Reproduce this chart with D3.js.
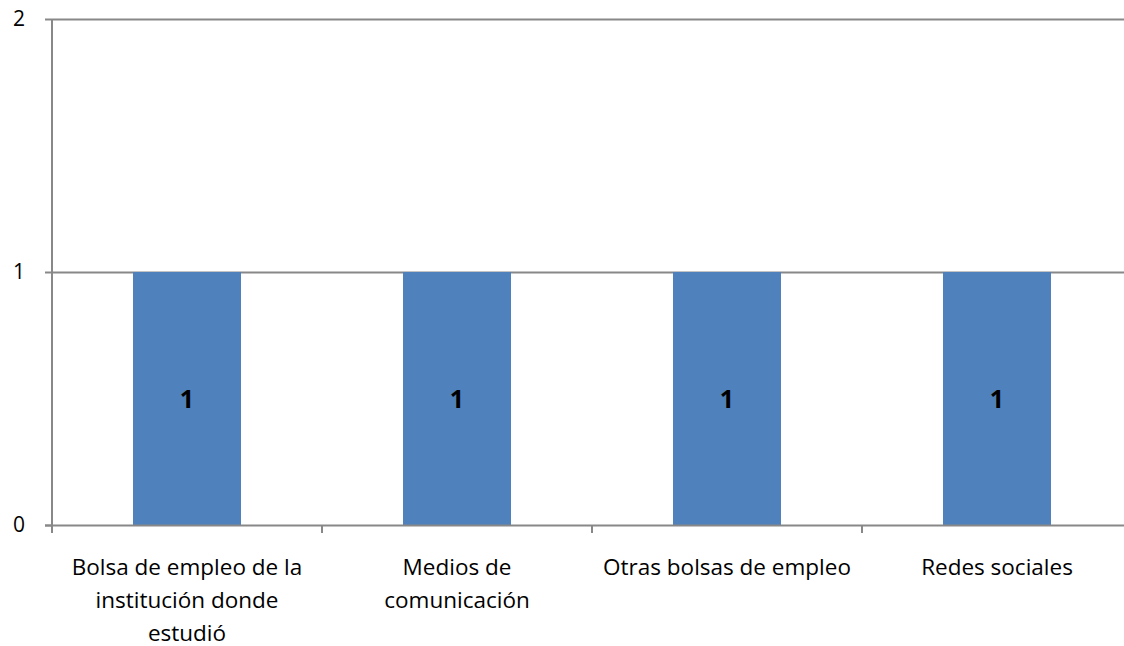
<!DOCTYPE html>
<html><head><meta charset="utf-8">
<script src="https://cdn.jsdelivr.net/npm/d3@7"></script>
<style>body{margin:0;background:#fff}svg{display:block}</style>
</head><body>
<script>
const categories = ["Bolsa de empleo de la institución donde estudió","Medios de comunicación","Otras bolsas de empleo","Redes sociales"];
const labelLines = [["Bolsa de empleo de la","institución donde","estudió"],["Medios de","comunicación"],["Otras bolsas de empleo"],["Redes sociales"]];
const values = [1,1,1,1];
const yTicks = [0,1,2];

const W=1124,H=646;
const svg=d3.select("body").append("svg").attr("width",W).attr("height",H);
const font="'Open Sans', sans-serif";
const x=d3.scaleBand().domain(categories).range([52,1132]).padding(0);
const y=d3.scaleLinear().domain([0,2]).range([525,19]);

// gridlines
svg.append("g").selectAll("line").data(yTicks.filter(d=>d>0)).join("line")
 .attr("x1",52).attr("x2",W).attr("y1",d=>y(d)+0.5).attr("y2",d=>y(d)+0.5)
 .attr("stroke","#888").attr("stroke-width",2);

// bars
const bw=x.bandwidth()*0.4;
svg.append("g").selectAll("rect").data(values).join("rect")
 .attr("x",(d,i)=>x(categories[i])+x.bandwidth()/2-bw/2)
 .attr("width",bw)
 .attr("y",d=>y(d)).attr("height",d=>y(0)-y(d))
 .attr("fill","#4f81bd");

// y axis
const yAxis=d3.axisLeft(y).tickValues(yTicks).tickSize(7).tickPadding(20).tickFormat(d3.format("d"));
const gy=svg.append("g").attr("transform","translate(52,0)").call(yAxis);
gy.select(".domain").attr("stroke","#888").attr("stroke-width",2).attr("d","M0,"+y(2)+"V"+y(0));
gy.selectAll(".tick line").attr("stroke","#888").attr("stroke-width",2);
gy.selectAll(".tick text").attr("font-family",font).attr("font-size",21).attr("fill","#000");

// x axis
const xAxis=d3.axisBottom(x).tickSize(0).tickFormat("");
const gx=svg.append("g").attr("transform","translate(0,525)").call(xAxis);
gx.select(".domain").remove();
svg.append("line").attr("x1",45).attr("x2",W).attr("y1",525.5).attr("y2",525.5).attr("stroke","#888").attr("stroke-width",2);
svg.append("g").selectAll("line").data(categories).join("line")
 .attr("x1",d=>x(d)).attr("x2",d=>x(d)).attr("y1",525).attr("y2",533)
 .attr("stroke","#888").attr("stroke-width",2);

// category labels
const lab=svg.append("g").selectAll("text").data(categories).join("text")
 .attr("text-anchor","middle").attr("font-family",font).attr("font-size",22.5).attr("fill","#000")
 .attr("x",d=>x(d)+x.bandwidth()/2).attr("y",575);
lab.each(function(d,i){
 d3.select(this).selectAll("tspan").data(labelLines[i]).join("tspan")
  .attr("x",x(d)+x.bandwidth()/2).attr("dy",(t,j)=>j===0?0:33).text(t=>t);
});

// data labels
svg.append("g").selectAll("text").data(values).join("text")
 .attr("x",(d,i)=>x(categories[i])+x.bandwidth()/2)
 .attr("y",d=>(y(d)+y(0))/2+9.5)
 .attr("text-anchor","middle").attr("font-family",font).attr("font-weight","bold").attr("font-size",25)
 .attr("fill","#000").text(d=>d);
</script>
</body></html>
